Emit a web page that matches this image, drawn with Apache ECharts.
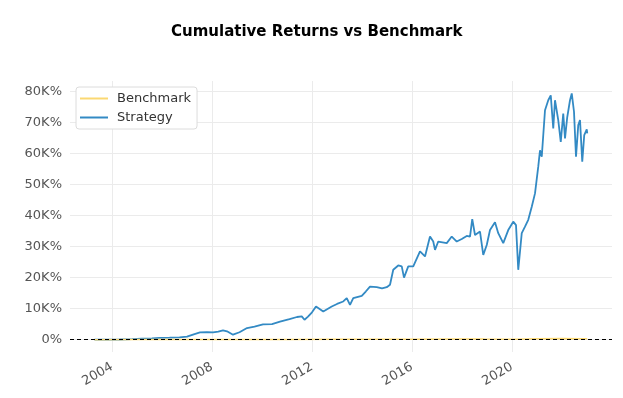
<!DOCTYPE html>
<html>
<head>
<meta charset="utf-8">
<script src="https://cdn.jsdelivr.net/npm/echarts@6/dist/echarts.min.js"></script>
<style>
  html, body { margin: 0; padding: 0; background: #fff; }
  #chart { width: 623px; height: 398px; }
</style>
</head>
<body>
<div id="chart"></div>
<script>
// values in thousands of percent (K%)
const stratYears = [2003.3, 2003.8, 2004.3, 2004.8, 2005.2, 2005.6, 2005.9, 2006.3, 2006.7, 2007.0, 2007.3, 2007.52, 2007.8, 2008.04, 2008.25, 2008.44, 2008.6, 2008.84, 2009.1, 2009.4, 2009.7, 2010.04, 2010.4, 2010.72, 2011.1, 2011.4, 2011.59, 2011.7, 2011.84, 2012.0, 2012.16, 2012.45, 2012.79, 2013.0, 2013.25, 2013.39, 2013.52, 2013.65, 2013.99, 2014.15, 2014.32, 2014.59, 2014.8, 2014.99, 2015.12, 2015.25, 2015.45, 2015.59, 2015.68, 2015.85, 2016.05, 2016.32, 2016.52, 2016.72, 2016.85, 2016.92, 2017.05, 2017.39, 2017.59, 2017.79, 2017.99, 2018.19, 2018.32, 2018.41, 2018.52, 2018.72, 2018.85, 2018.99, 2019.12, 2019.32, 2019.45, 2019.65, 2019.85, 2020.05, 2020.16, 2020.25, 2020.39, 2020.52, 2020.65, 2020.79, 2020.92, 2021.05, 2021.12, 2021.19, 2021.32, 2021.45, 2021.55, 2021.65, 2021.72, 2021.85, 2021.95, 2022.05, 2022.12, 2022.21, 2022.32, 2022.39, 2022.48, 2022.56, 2022.65, 2022.72, 2022.81, 2022.89, 2022.99, 2023.01];
const stratValues = [0, 0.02, 0.05, 0.15, 0.3, 0.45, 0.6, 0.65, 0.74, 1.0, 1.8, 2.35, 2.4, 2.35, 2.6, 3.0, 2.7, 1.6, 2.4, 3.75, 4.2, 4.9, 5.0, 5.8, 6.6, 7.3, 7.5, 6.4, 7.4, 8.8, 10.7, 9.1, 10.7, 11.5, 12.3, 13.4, 11.2, 13.4, 14.1, 15.5, 17.1, 16.9, 16.5, 16.9, 17.7, 22.5, 23.9, 23.6, 20.0, 23.6, 23.6, 28.4, 26.8, 33.2, 31.6, 28.9, 31.6, 31.1, 33.2, 31.6, 32.4, 33.4, 33.2, 38.8, 33.7, 34.8, 27.3, 30.5, 35.3, 37.8, 34.3, 31.1, 35.3, 38.0, 36.9, 22.5, 34.3, 36.4, 38.6, 42.8, 47.1, 55.7, 61.0, 58.9, 73.9, 77.1, 78.7, 68.0, 77.1, 70.7, 63.7, 72.8, 64.8, 71.7, 77.1, 79.3, 73.4, 58.9, 69.1, 70.7, 57.3, 65.9, 67.7, 66.4];

const benchYears = [2003.3, 2005.0, 2007.0, 2008.5, 2009.2, 2011.0, 2013.0, 2015.0, 2016.0, 2018.0, 2018.9, 2020.2, 2021.0, 2022.0, 2022.8, 2023.01];
const benchValues = [0, 0.02, 0.06, 0.08, 0.03, 0.08, 0.12, 0.16, 0.15, 0.25, 0.2, 0.15, 0.3, 0.38, 0.3, 0.33];

const xTicks = [2004, 2008, 2012, 2016, 2020];
const yTicks = [0, 10, 20, 30, 40, 50, 60, 70, 80];

const pair = (xs, ys) => xs.map((x, i) => [x, ys[i]]);

const chart = echarts.init(document.getElementById('chart'));

const option = {
  animation: false,
  backgroundColor: '#fff',
  title: {
    text: 'Cumulative Returns vs Benchmark',
    left: 166,
    top: 20,
    textStyle: { fontFamily: 'DejaVu Sans', fontSize: 15, fontWeight: 'bold', color: '#000' }
  },
  legend: {
    orient: 'vertical',
    left: 76,
    top: 87,
    padding: [5, 6, 5, 4],
    itemGap: 6,
    itemWidth: 28,
    itemHeight: 2,
    icon: 'rect',
    backgroundColor: '#fff',
    borderColor: '#dcdcdc',
    borderWidth: 1,
    borderRadius: 3,
    textStyle: { fontFamily: 'DejaVu Sans', fontSize: 13, color: '#333', padding: [0, 0, 0, 4] },
    data: ['Benchmark', 'Strategy']
  },
  grid: { left: 70, right: 11, top: 81, bottom: 46, containLabel: false },
  xAxis: {
    type: 'value',
    min: 2002.32,
    max: 2024.0,
    axisLine: { show: false },
    axisTick: { show: false, customValues: xTicks },
    axisLabel: {
      customValues: xTicks,
      rotate: 30,
      margin: 14,
      color: '#555',
      fontFamily: 'DejaVu Sans',
      fontSize: 13,
      formatter: v => String(v)
    },
    splitLine: { show: true, lineStyle: { color: '#ebebeb', width: 1 } }
  },
  yAxis: {
    type: 'value',
    min: -3.97,
    max: 83.3,
    axisLine: { show: false },
    axisTick: { show: false, customValues: yTicks },
    axisLabel: {
      customValues: yTicks,
      margin: 8,
      color: '#555',
      fontFamily: 'DejaVu Sans',
      fontSize: 13,
      formatter: v => (v === 0 ? '0%' : v + 'K%')
    },
    splitLine: { show: true, lineStyle: { color: '#ebebeb', width: 1 } }
  },
  series: [
    {
      name: 'Benchmark',
      type: 'line',
      data: pair(benchYears, benchValues),
      showSymbol: false,
      color: '#fbd872',
      lineStyle: { width: 1.5, color: '#fbd872' },
      markLine: {
        silent: true,
        symbol: 'none',
        label: { show: false },
        lineStyle: { color: '#000', type: [4, 3], width: 1 },
        data: [{ yAxis: 0 }]
      },
      z: 3
    },
    {
      name: 'Strategy',
      type: 'line',
      data: pair(stratYears, stratValues),
      showSymbol: false,
      color: '#338ac4',
      lineStyle: { width: 1.8, color: '#338ac4' },
      z: 2
    }
  ]
};

chart.setOption(option);
</script>
</body>
</html>
